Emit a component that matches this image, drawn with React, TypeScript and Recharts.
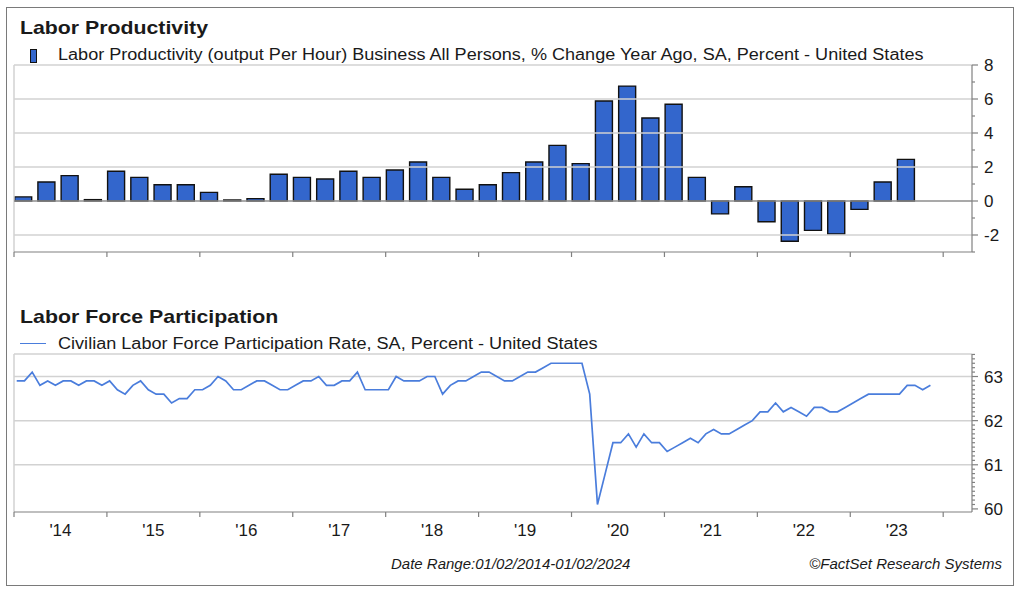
import React from 'react';
import { ComposedChart, Bar, Line, XAxis, YAxis, ReferenceLine } from 'recharts';

const FONT = '"Liberation Sans", Arial, Helvetica, sans-serif';
const BAR_BLUE = '#3366cc';
const LINE_BLUE = '#4a7ddc';
const GRID = '#d2d2d2';
const AXIS = '#808080';
const TEXT = '#1a1a1a';

// Labor productivity, % change year ago, quarterly 2014 Q1 .. 2023 Q3
const PRODUCTIVITY = [
  0.24, 1.12, 1.49, 0.08,
  1.75, 1.39, 0.96, 0.96,
  0.51, 0.06, 0.14, 1.57,
  1.39, 1.29, 1.75, 1.39,
  1.82, 2.29, 1.39, 0.69,
  0.96, 1.67, 2.29, 3.27,
  2.2, 5.88, 6.76, 4.88,
  5.69, 1.39, -0.76, 0.84,
  -1.22, -2.37, -1.73, -1.94,
  -0.49, 1.12, 2.45,
];

// Civilian labor force participation rate, monthly 2014-01 .. 2023-11
const LFPR = [
  62.9, 62.9, 63.1, 62.8, 62.9, 62.8, 62.9, 62.9, 62.8, 62.9, 62.9, 62.8,
  62.9, 62.7, 62.6, 62.8, 62.9, 62.7, 62.6, 62.6, 62.4, 62.5, 62.5, 62.7,
  62.7, 62.8, 63.0, 62.9, 62.7, 62.7, 62.8, 62.9, 62.9, 62.8, 62.7, 62.7,
  62.8, 62.9, 62.9, 63.0, 62.8, 62.8, 62.9, 62.9, 63.1, 62.7, 62.7, 62.7,
  62.7, 63.0, 62.9, 62.9, 62.9, 63.0, 63.0, 62.6, 62.8, 62.9, 62.9, 63.0,
  63.1, 63.1, 63.0, 62.9, 62.9, 63.0, 63.1, 63.1, 63.2, 63.3, 63.3, 63.3,
  63.3, 63.3, 62.6, 60.1, 60.8, 61.5, 61.5, 61.7, 61.4, 61.7, 61.5, 61.5,
  61.3, 61.4, 61.5, 61.6, 61.5, 61.7, 61.8, 61.7, 61.7, 61.8, 61.9, 62.0,
  62.2, 62.2, 62.4, 62.2, 62.3, 62.2, 62.1, 62.3, 62.3, 62.2, 62.2, 62.3,
  62.4, 62.5, 62.6, 62.6, 62.6, 62.6, 62.6, 62.8, 62.8, 62.7, 62.8,
];

const START_YEAR = 2014;
const PROD_TICKS = [-2, 0, 2, 4, 6, 8];
const LFPR_TICKS = [60, 61, 62, 63];
const YEAR_TICKS = [2014, 2015, 2016, 2017, 2018, 2019, 2020, 2021, 2022, 2023, 2024];
const YEAR_LABELS = ["'14", "'15", "'16", "'17", "'18", "'19", "'20", "'21", "'22", "'23"];

const X_DOMAIN: [number, number] = [2014, 2024.31];
const PLOT_LEFT = 14;
const PLOT_RIGHT = 972;
const YEAR_PX = (PLOT_RIGHT - PLOT_LEFT) / (X_DOMAIN[1] - X_DOMAIN[0]);

const PROD_DOMAIN: [number, number] = [-3, 8];
const LFPR_DOMAIN: [number, number] = [59.93, 63.51];

const prodData = PRODUCTIVITY.map((v, i) => ({
  t: START_YEAR + Math.floor(i / 4) + ((i % 4) + 0.4) / 4,
  value: v,
}));
const lfprData = LFPR.map((v, i) => ({ t: START_YEAR + (i + 0.35) / 12, value: v }));

// minor ticks: every 1 on the productivity axis, every 0.1 on the participation axis
const prodMinor: number[] = [];
for (let v = -3; v <= 8; v++) prodMinor.push(v);
const lfprMinor: number[] = [];
for (let k = 600; k <= 635; k++) lfprMinor.push(k / 10);

const YearTick = (props: any) => {
  const { x, y, payload, showLabel } = props;
  const idx = YEAR_TICKS.indexOf(payload.value);
  const label = showLabel ? YEAR_LABELS[idx] : undefined;
  return (
    <g>
      <line x1={x} y1={y} x2={x} y2={y + 5} stroke={AXIS} strokeWidth={1.2} />
      {label && (
        <text x={x + YEAR_PX / 2} y={y + 24} textAnchor="middle" fontFamily={FONT} fontSize={17} fill={TEXT}>
          {label}
        </text>
      )}
    </g>
  );
};

const ValueTick = (props: any) => {
  const { x, y, payload, majors } = props;
  const v = payload.value;
  const major = majors.some((m: number) => Math.abs(m - v) < 1e-6);
  return (
    <g>
      <line x1={x} y1={y} x2={x + (major ? 6 : 3)} y2={y} stroke={AXIS} strokeWidth={1.2} />
      {major && (
        <text x={x + 12} y={y} dy={6} fontFamily={FONT} fontSize={17} fill={TEXT}>
          {Math.round(v)}
        </text>
      )}
    </g>
  );
};

// the header text in the source is drawn a little wider than Arial, so stretch it
const abs = (left: number, top: number, extra: React.CSSProperties = {}): React.CSSProperties => ({
  position: 'absolute', left, top, fontFamily: FONT, color: TEXT, lineHeight: 1, whiteSpace: 'nowrap',
  transformOrigin: 'left top', ...extra,
});

export default function App() {
  return (
    <div style={{ position: 'absolute', left: 0, top: 0, width: 1024, height: 595, background: '#fff', overflow: 'hidden' }}>
      <div style={{ position: 'absolute', left: 6, top: 7, width: 1006, height: 577, border: '1px solid #7a7a7a' }} />

      {/* Labor productivity */}
      <div style={abs(20, 18, { fontSize: 19, fontWeight: 'bold', transform: 'scaleX(1.12)' })}>Labor Productivity</div>
      <div style={{ position: 'absolute', left: 30, top: 48.5, width: 5, height: 12, background: BAR_BLUE, border: '1px solid #111' }} />
      <div style={abs(58, 46.5, { fontSize: 16, transform: 'scaleX(1.129)' })}>
        Labor Productivity (output Per Hour) Business All Persons, % Change Year Ago, SA, Percent - United States
      </div>

      <div style={{ position: 'absolute', left: 0, top: 0 }}>
        <ComposedChart width={1024} height={290} data={prodData} margin={{ top: 65, left: PLOT_LEFT, right: 12, bottom: 8 }}>
          <XAxis
            dataKey="t" type="number" domain={X_DOMAIN} ticks={YEAR_TICKS} interval={0}
            allowDataOverflow height={30} axisLine={{ stroke: AXIS, strokeWidth: 1.2 }}
            tickLine={false} tickSize={0} tickMargin={0}
            tick={(p: any) => <YearTick {...p} showLabel={false} />}
          />
          <YAxis
            orientation="right" type="number" domain={PROD_DOMAIN} ticks={prodMinor} interval={0}
            allowDataOverflow width={40} axisLine={{ stroke: AXIS, strokeWidth: 1.2 }}
            tickLine={false} tickSize={0} tickMargin={0}
            tick={(p: any) => <ValueTick {...p} majors={PROD_TICKS} />}
          />
          <ReferenceLine x={X_DOMAIN[0]} stroke={GRID} strokeWidth={1.5} />
          {PROD_TICKS.filter(v => v !== 0).map(v => (
            <ReferenceLine key={v} y={v} stroke={GRID} strokeWidth={1.5} />
          ))}
          <ReferenceLine y={0} stroke="#8c8c8c" strokeWidth={1.5} />
          <Bar dataKey="value" fill={BAR_BLUE} stroke="#111" strokeWidth={1.4} barSize={17} isAnimationActive={false} />
        </ComposedChart>
      </div>

      {/* Labor force participation */}
      <div style={abs(20, 306.5, { fontSize: 19, fontWeight: 'bold', transform: 'scaleX(1.122)' })}>Labor Force Participation</div>
      <div style={{ position: 'absolute', left: 20, top: 342.5, width: 26, height: 1.6, background: LINE_BLUE }} />
      <div style={abs(58, 335.8, { fontSize: 16, transform: 'scaleX(1.13)' })}>
        Civilian Labor Force Participation Rate, SA, Percent - United States
      </div>

      <div style={{ position: 'absolute', left: 0, top: 300 }}>
        <ComposedChart width={1024} height={250} data={lfprData} margin={{ top: 54, left: PLOT_LEFT, right: 12, bottom: 8 }}>
          <XAxis
            dataKey="t" type="number" domain={X_DOMAIN} ticks={YEAR_TICKS} interval={0}
            allowDataOverflow height={30} axisLine={{ stroke: AXIS, strokeWidth: 1.2 }}
            tickLine={false} tickSize={0} tickMargin={0}
            tick={(p: any) => <YearTick {...p} showLabel />}
          />
          <YAxis
            orientation="right" type="number" domain={LFPR_DOMAIN} ticks={lfprMinor} interval={0}
            allowDataOverflow width={40} axisLine={{ stroke: AXIS, strokeWidth: 1.2 }}
            tickLine={false} tickSize={0} tickMargin={0}
            tick={(p: any) => <ValueTick {...p} majors={LFPR_TICKS} />}
          />
          <ReferenceLine x={X_DOMAIN[0]} stroke={GRID} strokeWidth={1.5} />
          <ReferenceLine y={LFPR_DOMAIN[1]} stroke={GRID} strokeWidth={1.5} />
          {LFPR_TICKS.filter(v => v !== 60).map(v => (
            <ReferenceLine key={v} y={v} stroke={GRID} strokeWidth={1.5} />
          ))}
          <Line dataKey="value" type="linear" stroke={LINE_BLUE} strokeWidth={1.7} dot={false} isAnimationActive={false} />
        </ComposedChart>
      </div>

      <div style={abs(391, 556, { fontSize: 15, fontStyle: 'italic' })}>Date Range:01/02/2014-01/02/2024</div>
      <div style={abs(0, 556, { fontSize: 15, fontStyle: 'italic', width: 1002, textAlign: 'right' })}>
        ©FactSet Research Systems
      </div>
    </div>
  );
}
